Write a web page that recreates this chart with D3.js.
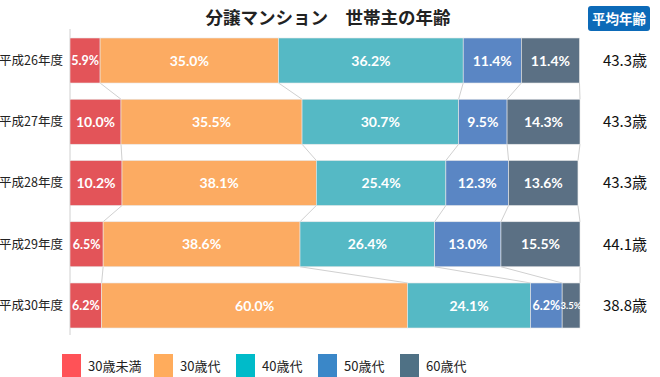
<!DOCTYPE html>
<meta charset="utf-8" />
<title>分譲マンション 世帯主の年齢</title>
<style>
  body { margin: 0; background: #fff; }
  svg { display: block; font-family: "Noto Sans CJK JP", "Noto Sans", sans-serif; }
  .connector { stroke: #d0d0d0; stroke-width: 1px; fill: none; }
  .pct { fill: #fff; text-anchor: middle; font-family: "Lato", "Noto Sans", sans-serif; font-weight: 700; }
</style>
<body>
<svg></svg>
<script src="https://d3js.org/d3.v7.min.js"></script>
<script>
  const width = 660, height = 377;

  const years = ["平成26年度", "平成27年度", "平成28年度", "平成29年度", "平成30年度"];
  const groups = ["30歳未満", "30歳代", "40歳代", "50歳代", "60歳代"];
  const under30 = [5.9, 10.0, 10.2, 6.5, 6.2];
  const age30s = [35.0, 35.5, 38.1, 38.6, 60.0];
  const age40s = [36.2, 30.7, 25.4, 26.4, 24.1];
  const age50s = [11.4, 9.5, 12.3, 13.0, 6.2];
  const age60s = [11.4, 14.3, 13.6, 15.5, 3.5];
  const avgAge = [43.3, 43.3, 43.3, 44.1, 38.8];

  const barColors = ["#e35459", "#fcab62", "#55b9c5", "#5a86c4", "#5b7084"];
  const legendColors = ["#ff5257", "#ffac5c", "#00bbc9", "#3a87c8", "#4f7185"];

  const series = [under30, age30s, age40s, age50s, age60s];
  const rows = years.map((y, i) => {
    let acc = 0;
    const segs = series.map((s, k) => {
      const seg = { year: y, key: k, v: s[i], x0: acc, x1: acc + s[i] };
      acc += s[i];
      return seg;
    });
    return { year: y, segs, avg: avgAge[i] };
  });

  const svg = d3.select("svg").attr("width", width).attr("height", height);

  const x = d3.scaleLinear().domain([0, 100]).range([70, 580]);
  const y = d3.scaleBand().domain(years).range([38, 328]).paddingInner(0.265).paddingOuter(0);
  const bw = y.bandwidth();

  // title
  svg.append("text")
    .attr("x", 328).attr("y", 24)
    .attr("text-anchor", "middle")
    .attr("font-size", 17.5).attr("font-weight", 700).attr("fill", "#222")
    .text("分譲マンション　世帯主の年齢");

  // badge
  svg.append("rect")
    .attr("x", 588).attr("y", 6).attr("width", 62).attr("height", 25)
    .attr("rx", 3).attr("fill", "#0c6ab8");
  svg.append("text")
    .attr("x", 619).attr("y", 23.5)
    .attr("text-anchor", "middle")
    .attr("font-size", 13.5).attr("font-weight", 700).attr("fill", "#fff")
    .text("平均年齢");

  // axis line
  svg.append("line")
    .attr("x1", 70).attr("x2", 70).attr("y1", 29).attr("y2", 335)
    .attr("stroke", "#d0d0d0");

  // connectors between bars
  const conn = svg.append("g");
  for (let i = 0; i < rows.length - 1; i++) {
    for (let k = 0; k < groups.length; k++) {
      conn.append("line")
        .attr("class", "connector")
        .attr("x1", x(rows[i].segs[k].x1)).attr("y1", y(years[i]) + bw)
        .attr("x2", x(rows[i + 1].segs[k].x1)).attr("y2", y(years[i + 1]));
    }
  }

  // bars
  const row = svg.append("g").selectAll("g")
    .data(rows)
    .join("g")
    .attr("transform", d => `translate(0,${y(d.year)})`);

  row.selectAll("rect")
    .data(d => d.segs)
    .join("rect")
    .attr("x", d => x(d.x0))
    .attr("width", d => x(d.x1) - x(d.x0))
    .attr("height", bw)
    .attr("fill", d => barColors[d.key])
    .attr("stroke", "#e8e8e8")
    .attr("stroke-width", 0.6);

  row.selectAll("text.pct")
    .data(d => d.segs)
    .join("text")
    .attr("class", "pct")
    .attr("x", d => (x(d.x0) + x(d.x1)) / 2)
    .attr("y", bw / 2)
    .attr("dy", "0.36em")
    .attr("font-size", d => d.v < 5 ? 9.5 : (d.v < 7 ? 12.5 : 14))
    .text(d => d.v.toFixed(1) + "%");

  // row labels
  row.append("text")
    .attr("x", 63).attr("y", bw / 2).attr("dy", "0.36em")
    .attr("text-anchor", "end")
    .attr("font-size", 12.5).attr("fill", "#222")
    .text(d => d.year);

  // average age
  row.append("text")
    .attr("x", 625).attr("y", bw / 2).attr("dy", "0.36em")
    .attr("text-anchor", "middle")
    .attr("font-size", 15).attr("fill", "#111")
    .text(d => d.avg.toFixed(1) + "歳");

  // legend
  const legendX = [62, 154, 236, 318, 400];
  const lg = svg.append("g").selectAll("g")
    .data(groups)
    .join("g")
    .attr("transform", (d, i) => `translate(${legendX[i]},354)`);
  lg.append("rect").attr("width", 19).attr("height", 23).attr("fill", (d, i) => legendColors[i]);
  lg.append("text")
    .attr("x", 26).attr("y", 12).attr("dy", "0.36em")
    .attr("font-size", 13).attr("fill", "#222")
    .text(d => d);
</script>
</body>
